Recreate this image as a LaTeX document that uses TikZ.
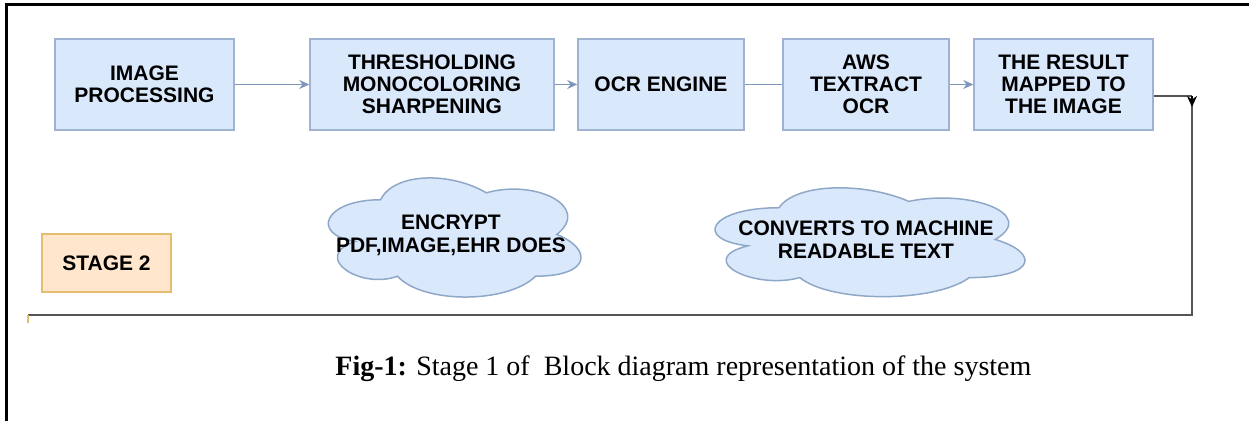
\documentclass[tikz,border=0pt]{standalone}
\usepackage{fontspec}
\setmainfont{Liberation Serif}
\newfontfamily\boxfont{Liberation Sans}
\usetikzlibrary{arrows.meta}

\definecolor{boxfill}{HTML}{DAE8FC}
\definecolor{boxline}{HTML}{9DB3D0}
\definecolor{flowline}{HTML}{7F96BC}
\definecolor{loopline}{HTML}{555555}
\definecolor{stagefill}{HTML}{FFE6CC}
\definecolor{stageline}{HTML}{E3BE6E}
\definecolor{cloudline}{HTML}{8FA8C8}

\tikzset{
  block/.style={draw=boxline, fill=boxfill, line width=0.75pt,
    minimum height=45.5pt, inner sep=0pt, align=center,
    font=\boxfont\bfseries\fontsize{10.5}{11}\selectfont, text=black},
  stagebox/.style={draw=stageline, fill=stagefill, line width=0.75pt,
    minimum width=64.5pt, minimum height=29pt, inner sep=0pt,
    font=\boxfont\bfseries\fontsize{10.5}{11}\selectfont, text=black},
  cloudtxt/.style={inner sep=0pt, align=center,
    font=\boxfont\bfseries\fontsize{10.5}{11.5}\selectfont, text=black},
  cloudshape/.style={draw=cloudline, fill=boxfill, line width=0.75pt},
  flow/.style={draw=flowline, line width=0.8pt,
    -{Stealth[length=5pt,width=4.5pt]}},
  flowplain/.style={draw=flowline, line width=0.8pt},
  loop/.style={draw=loopline, line width=1pt},
  frame/.style={draw=black, line width=1.9pt},
}

% draw.io style cloud outline in a unit box
\newcommand{\drawcloud}{%
  \path[cloudshape] (0.25,0.25) .. controls (0.05,0.25) and (0,0.5) .. (0.16,0.55)
    .. controls (0,0.66) and (0.18,0.9) .. (0.31,0.8)
    .. controls (0.4,1) and (0.7,1) .. (0.8,0.8)
    .. controls (1,0.8) and (1,0.6) .. (0.875,0.5)
    .. controls (1,0.3) and (0.8,0.1) .. (0.625,0.2)
    .. controls (0.5,0.05) and (0.3,0.05) .. (0.25,0.25) -- cycle;}

\begin{document}
\begin{tikzpicture}[x=0.5pt,y=-0.5pt]
\useasboundingbox (0,0) rectangle (1249,421);

% outer frame (top and left edges)
\draw[frame] (6.5,421) -- (6.5,4.5) -- (1249,4.5);

% processing chain
\node[block, minimum width=89.5pt] (ip)  at (144.5,84.5) {IMAGE\\PROCESSING};
\node[block, minimum width=122pt]  (thr) at (432,84.5)   {THRESHOLDING\\MONOCOLORING\\SHARPENING};
\node[block, minimum width=83pt]   (ocr) at (661,84.5)   {OCR ENGINE};
\node[block, minimum width=83pt]   (aws) at (866,84.5)   {AWS\\TEXTRACT\\OCR};
\node[block, minimum width=89.5pt] (res) at (1063.5,84.5) {THE RESULT\\MAPPED TO\\THE IMAGE};

\draw[flow] (ip) -- (thr);
\draw[flow] (thr) -- (ocr);
\draw[flowplain] (ocr) -- (aws);
\draw[flow] (aws) -- (res);

% feedback loop around the stage
\coordinate (c1) at (1192,96);
\coordinate (c1tip) at (1192,107);
\coordinate (c2) at (1192,315);
\coordinate (c3) at (28,315);
\coordinate (c4) at (28,323);
\draw[loop] (res.east |- c1) -- (c1);
\draw[loop] (c1) -- (c2) -- (c3);
\draw[loop, draw=black, -{Stealth[length=5.5pt,width=5pt]}] (c1) -- (c1tip);
\draw[draw=stageline, line width=0.75pt] (c3) -- (c4);

% stage label
\node[stagebox] (stage) at (106.5,263) {STAGE 2};

% clouds
\begin{scope}[shift={(310,165)}, x=141pt, y=-69.5pt]
  \drawcloud
\end{scope}
\node[cloudtxt] (enc) at (451,235) {ENCRYPT\\PDF,IMAGE,EHR DOES};

\begin{scope}[shift={(692.5,176)}, x=173pt, y=-63.5pt]
  \drawcloud
\end{scope}
\node[cloudtxt] (conv) at (866,240) {CONVERTS TO MACHINE\\READABLE TEXT};

% caption
\node[anchor=base west, inner sep=0pt, font=\fontsize{14}{16}\selectfont] (cap) at (335,376)
  {\textbf{Fig-1:} Stage 1 of\ \ Block diagram representation of the system};
\end{tikzpicture}
\end{document}
